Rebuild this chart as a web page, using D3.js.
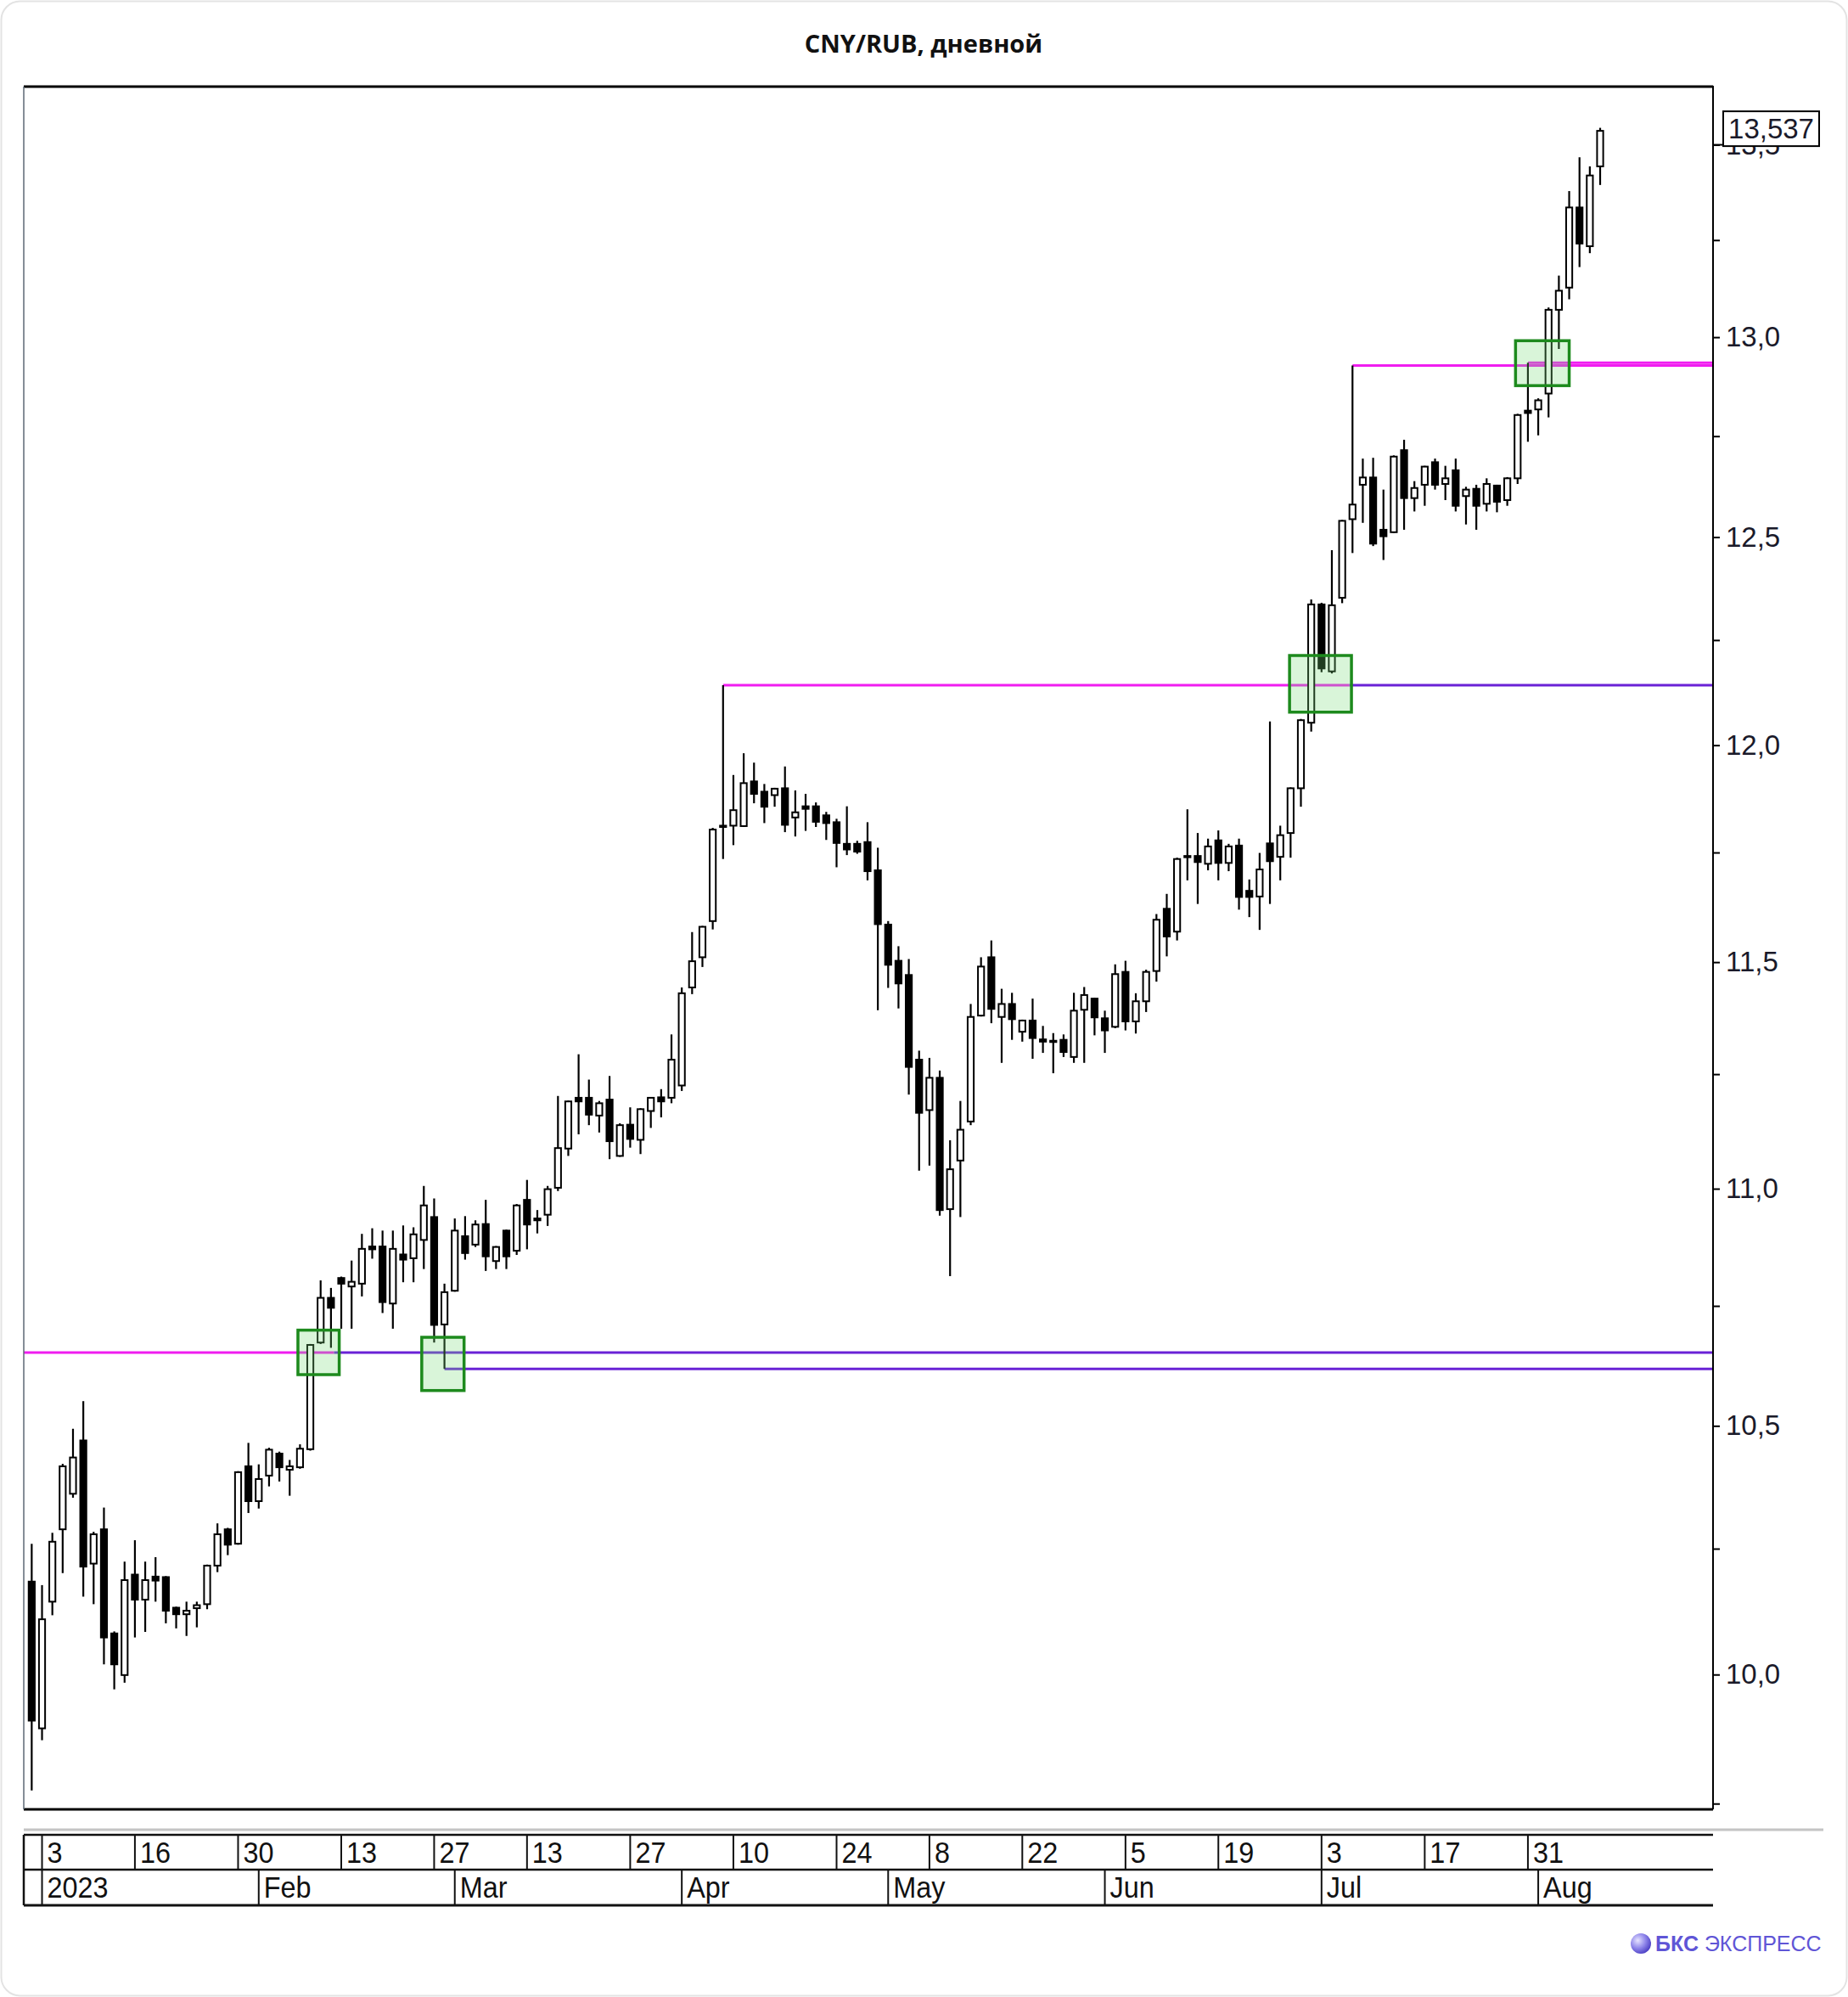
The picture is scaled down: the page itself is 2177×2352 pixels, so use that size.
<!DOCTYPE html>
<html><head><meta charset="utf-8">
<script src="https://cdn.jsdelivr.net/npm/d3@7"></script>
<style>html,body{margin:0;padding:0;background:#fff;} svg{display:block;}</style>
</head><body>
<svg id="chart" width="2177" height="2352"></svg>
<script>
const title = "CNY/RUB, дневной";
const dates = ["2022-12-30",
"2023-01-03","2023-01-04","2023-01-05","2023-01-06","2023-01-09","2023-01-10","2023-01-11","2023-01-12","2023-01-13","2023-01-16","2023-01-17","2023-01-18","2023-01-19","2023-01-20","2023-01-23","2023-01-24","2023-01-25","2023-01-26","2023-01-27","2023-01-30","2023-01-31",
"2023-02-01","2023-02-02","2023-02-03","2023-02-06","2023-02-07","2023-02-08","2023-02-09","2023-02-10","2023-02-13","2023-02-14","2023-02-15","2023-02-16","2023-02-17","2023-02-20","2023-02-21","2023-02-22","2023-02-24","2023-02-27","2023-02-28",
"2023-03-01","2023-03-02","2023-03-03","2023-03-06","2023-03-07","2023-03-09","2023-03-10","2023-03-13","2023-03-14","2023-03-15","2023-03-16","2023-03-17","2023-03-20","2023-03-21","2023-03-22","2023-03-23","2023-03-24","2023-03-27","2023-03-28","2023-03-29","2023-03-30","2023-03-31",
"2023-04-03","2023-04-04","2023-04-05","2023-04-06","2023-04-07","2023-04-10","2023-04-11","2023-04-12","2023-04-13","2023-04-14","2023-04-17","2023-04-18","2023-04-19","2023-04-20","2023-04-21","2023-04-24","2023-04-25","2023-04-26","2023-04-27","2023-04-28",
"2023-05-02","2023-05-03","2023-05-04","2023-05-05","2023-05-08","2023-05-10","2023-05-11","2023-05-12","2023-05-15","2023-05-16","2023-05-17","2023-05-18","2023-05-19","2023-05-22","2023-05-23","2023-05-24","2023-05-25","2023-05-26","2023-05-29","2023-05-30","2023-05-31",
"2023-06-01","2023-06-02","2023-06-05","2023-06-06","2023-06-07","2023-06-08","2023-06-09","2023-06-13","2023-06-14","2023-06-15","2023-06-16","2023-06-19","2023-06-20","2023-06-21","2023-06-22","2023-06-23","2023-06-26","2023-06-27","2023-06-28","2023-06-29","2023-06-30",
"2023-07-03","2023-07-04","2023-07-05","2023-07-06","2023-07-07","2023-07-10","2023-07-11","2023-07-12","2023-07-13","2023-07-14","2023-07-17","2023-07-18","2023-07-19","2023-07-20","2023-07-21","2023-07-24","2023-07-25","2023-07-26","2023-07-27","2023-07-28","2023-07-31",
"2023-08-01","2023-08-02","2023-08-03","2023-08-04","2023-08-07","2023-08-08","2023-08-09"];

const open = [10.184,
9.895,10.144,10.289,10.361,10.470,10.220,10.289,10.081,9.999,10.198,
10.148,10.194,10.193,10.132,10.119,10.131,10.139,10.216,10.289,10.260,
10.417,10.346,10.398,10.443,10.410,10.415,10.452,10.673,10.767,10.809,
10.791,10.797,10.876,10.876,10.755,10.859,10.851,10.890,10.939,10.711,
10.782,10.898,10.880,10.924,10.845,10.910,10.867,10.976,10.936,10.944,
11.002,11.087,11.198,11.198,11.159,11.194,11.071,11.139,11.106,11.169,
11.199,11.198,11.225,11.443,11.511,11.593,11.809,11.812,11.811,11.915,
11.891,11.883,11.899,11.831,11.857,11.857,11.836,11.820,11.770,11.770,
11.774,11.709,11.585,11.503,11.471,11.282,11.171,11.242,10.956,11.061,
11.146,11.380,11.511,11.377,11.406,11.344,11.369,11.327,11.324,11.326,
11.288,11.393,11.418,11.374,11.355,11.478,11.367,11.412,11.480,11.621,
11.569,11.742,11.742,11.724,11.778,11.726,11.766,11.662,11.649,11.771,
11.740,11.795,11.899,12.053,12.336,12.175,12.352,12.544,12.629,12.647,
12.518,12.512,12.715,12.596,12.629,12.685,12.631,12.665,12.601,12.619,
12.582,12.627,12.591,12.645,12.814,12.817,12.857,13.070,13.127,13.335,
13.234,13.443];

const high = [10.260,
10.177,10.282,10.422,10.494,10.551,10.284,10.333,10.085,10.224,10.267,
10.224,10.233,10.195,10.134,10.144,10.144,10.218,10.301,10.292,10.407,
10.465,10.421,10.455,10.447,10.430,10.462,10.670,10.804,10.788,10.812,
10.846,10.903,10.915,10.910,10.910,10.921,10.917,11.006,10.979,10.797,
10.936,10.941,10.932,10.976,10.877,10.912,10.967,11.019,10.954,11.006,
11.202,11.192,11.294,11.238,11.191,11.246,11.142,11.177,11.175,11.199,
11.217,11.338,11.443,11.568,11.582,11.807,12.142,11.930,11.981,11.959,
11.909,11.900,11.950,11.894,11.886,11.866,11.844,11.828,11.857,11.777,
11.820,11.761,11.593,11.536,11.507,11.302,11.286,11.258,11.105,11.191,
11.406,11.511,11.549,11.440,11.431,11.371,11.418,11.357,11.341,11.338,
11.431,11.444,11.420,11.391,11.495,11.503,11.430,11.483,11.609,11.655,
11.738,11.850,11.795,11.782,11.801,11.770,11.782,11.688,11.749,12.056,
11.812,11.901,12.062,12.348,12.340,12.468,12.542,12.928,12.694,12.696,
12.617,12.702,12.741,12.638,12.676,12.694,12.676,12.694,12.624,12.629,
12.645,12.629,12.648,12.806,12.935,12.845,13.076,13.158,13.378,13.467,
13.443,13.545];

const low = [9.775,
9.872,10.117,10.201,10.353,10.154,10.139,10.020,9.971,9.984,10.073,
10.084,10.144,10.101,10.091,10.076,10.093,10.129,10.203,10.237,10.258,
10.322,10.331,10.376,10.386,10.357,10.412,10.449,10.670,10.662,10.702,
10.702,10.770,10.850,10.735,10.702,10.800,10.800,10.828,10.673,10.618,
10.780,10.848,10.875,10.824,10.828,10.828,10.858,10.870,10.904,10.920,
10.995,11.071,11.118,11.138,11.122,11.064,11.069,11.089,11.075,11.132,
11.155,11.186,11.213,11.428,11.489,11.574,11.735,11.767,11.809,11.864,
11.818,11.856,11.797,11.787,11.800,11.809,11.779,11.716,11.744,11.747,
11.686,11.392,11.442,11.396,11.205,11.039,11.050,10.942,10.813,10.939,
11.138,11.378,11.363,11.275,11.326,11.322,11.284,11.297,11.252,11.288,
11.275,11.275,11.336,11.297,11.352,11.347,11.340,11.388,11.456,11.513,
11.549,11.686,11.632,11.709,11.686,11.707,11.619,11.602,11.573,11.632,
11.686,11.738,11.856,12.032,12.173,12.170,12.339,12.461,12.535,12.478,
12.444,12.510,12.518,12.563,12.577,12.617,12.591,12.563,12.531,12.518,
12.563,12.561,12.577,12.631,12.736,12.752,12.797,12.970,13.097,13.180,
13.216,13.394];

const close = [9.910,
10.109,10.264,10.417,10.435,10.214,10.279,10.073,10.020,10.187,10.148,
10.187,10.186,10.126,10.119,10.126,10.137,10.216,10.279,10.258,10.405,
10.346,10.391,10.451,10.415,10.417,10.453,10.668,10.767,10.746,10.797,
10.801,10.871,10.870,10.758,10.871,10.848,10.902,10.964,10.710,10.779,
10.910,10.862,10.923,10.855,10.875,10.855,10.964,10.923,10.932,10.999,
11.088,11.190,11.190,11.161,11.186,11.103,11.138,11.108,11.173,11.198,
11.190,11.282,11.430,11.502,11.580,11.803,11.812,11.848,11.911,11.886,
11.856,11.898,11.814,11.843,11.851,11.821,11.818,11.772,11.757,11.752,
11.707,11.586,11.494,11.452,11.266,11.165,11.242,10.954,11.042,11.128,
11.377,11.490,11.395,11.406,11.372,11.369,11.330,11.322,11.322,11.299,
11.391,11.426,11.376,11.347,11.473,11.367,11.412,11.478,11.596,11.558,
11.735,11.741,11.728,11.764,11.726,11.764,11.648,11.648,11.711,11.730,
11.790,11.899,12.059,12.336,12.182,12.334,12.540,12.580,12.647,12.484,
12.502,12.699,12.596,12.621,12.674,12.629,12.645,12.577,12.617,12.577,
12.631,12.587,12.645,12.803,12.808,12.840,13.070,13.119,13.335,13.241,
13.419,13.537];

// y-axis ticks
const yMajorTicks = [10.0, 10.5, 11.0, 11.5, 12.0, 12.5, 13.0, 13.5];
const yMinorTicks = [9.75, 10.25, 10.75, 11.25, 11.75, 12.25, 12.75, 13.25];
// x-axis tick rows
const dayTickDates = ["2023-01-03","2023-01-16","2023-01-30","2023-02-13","2023-02-27","2023-03-13","2023-03-27","2023-04-10","2023-04-24","2023-05-08","2023-05-22","2023-06-05","2023-06-19","2023-07-03","2023-07-17","2023-07-31"];
const dayTickLabels = ["3","16","30","13","27","13","27","10","24","8","22","5","19","3","17","31"];
const monthTickDates = ["2023-01-03","2023-02-01","2023-03-01","2023-04-03","2023-05-02","2023-06-01","2023-07-03","2023-08-01"];
const monthTickLabels = ["2023","Feb","Mar","Apr","May","Jun","Jul","Aug"];

// horizontal levels (position in bars: from / to), value, kind
const levelValue = [10.652, 10.652, 10.618, 12.142, 12.142, 12.928, 12.935];
const levelFrom  = [-0.77, 29.3, 40, 67, 127.7, 128, 145];
const levelTo    = [29.3, 162.94, 162.94, 127.7, 162.94, 162.94, 162.94];
const levelKind  = ["pink","purple","purple","pink","purple","pink","pink"];

// breakout boxes (bars from/to, value low/high)
const boxFrom = [25.8, 37.8, 121.9, 143.8];
const boxTo   = [29.8, 41.9, 127.9, 149.0];
const boxLow  = [10.606, 10.573, 12.078, 12.877];
const boxHigh = [10.699, 10.684, 12.213, 12.991];

const W = 2177, H = 2352;
const L = 28, R = 2018, T = 102, B = 2131;
const svg = d3.select("#chart");
const AX = "'Liberation Sans', Arial, sans-serif";

const x = d3.scaleLinear().domain([-0.77, 162.94]).range([L, R]);
const y = d3.scaleLog().domain([9.739, 13.655]).range([B, T]);
const pos = new Map(dates.map((d, i) => [d, i]));

// card
svg.append("rect").attr("x", 1.5).attr("y", 1.5).attr("width", W - 3).attr("height", H - 3)
  .attr("rx", 22).attr("fill", "#fff").attr("stroke", "#e3e3e3").attr("stroke-width", 2);

// title
svg.append("text").attr("x", 1088).attr("y", 62).attr("text-anchor", "middle")
  .attr("font-family", "'Open Sans','Noto Sans',sans-serif").attr("font-weight", 700)
  .attr("font-size", 29).attr("fill", "#111").text(title);

const defs = svg.append("defs");
defs.append("clipPath").attr("id", "clip")
  .append("rect").attr("x", L).attr("y", T).attr("width", R - L).attr("height", B - T);

const plot = svg.append("g").attr("clip-path", "url(#clip)");

// levels
const colors = {pink: "#f01df0", purple: "#6a22d6"};
plot.selectAll("line.level").data(levelValue.map((v, i) => i)).join("line")
  .attr("class", "level")
  .attr("x1", i => x(levelFrom[i])).attr("x2", i => x(levelTo[i]))
  .attr("y1", i => y(levelValue[i])).attr("y2", i => y(levelValue[i]))
  .attr("stroke", i => colors[levelKind[i]]).attr("stroke-width", 3);

// candles
const idx = d3.range(dates.length);
plot.selectAll("line.wick").data(idx).join("line").attr("class", "wick")
  .attr("x1", i => x(i)).attr("x2", i => x(i))
  .attr("y1", i => y(high[i])).attr("y2", i => y(low[i]))
  .attr("stroke", "#000").attr("stroke-width", 2.2);

plot.selectAll("rect.body").data(idx).join("rect").attr("class", "body")
  .attr("x", i => x(i) - 3.6).attr("width", 7.2)
  .attr("y", i => Math.min(y(open[i]), y(close[i])))
  .attr("height", i => Math.max(1.5, Math.abs(y(open[i]) - y(close[i]))))
  .attr("fill", i => close[i] >= open[i] ? "#fff" : "#000")
  .attr("stroke", "#000").attr("stroke-width", 2);

// boxes
plot.selectAll("rect.box").data(boxFrom.map((v, i) => i)).join("rect").attr("class", "box")
  .attr("x", i => x(boxFrom[i])).attr("width", i => x(boxTo[i]) - x(boxFrom[i]))
  .attr("y", i => y(boxHigh[i])).attr("height", i => y(boxLow[i]) - y(boxHigh[i]))
  .attr("fill", "rgba(120,220,120,0.28)").attr("stroke", "#1d8a1d").attr("stroke-width", 3.5);

// frame
svg.append("line").attr("x1", L).attr("x2", R).attr("y1", T).attr("y2", T).attr("stroke", "#000").attr("stroke-width", 3);
svg.append("line").attr("x1", L).attr("x2", R).attr("y1", B).attr("y2", B).attr("stroke", "#000").attr("stroke-width", 3);
svg.append("line").attr("x1", L).attr("x2", L).attr("y1", T).attr("y2", B).attr("stroke", "#5d6875").attr("stroke-width", 1.5);
svg.append("line").attr("x1", R).attr("x2", R).attr("y1", T - 1).attr("y2", B).attr("stroke", "#000").attr("stroke-width", 2);

// y axis
const fmt = d => d.toFixed(1).replace(".", ",");
const yAxis = d3.axisRight(y).tickValues(yMajorTicks).tickFormat(fmt).tickSize(8).tickPadding(7);
const gy = svg.append("g").attr("transform", `translate(${R},0)`).call(yAxis);
gy.select(".domain").remove();
gy.selectAll(".tick line").attr("stroke", "#000").attr("stroke-width", 2);
gy.selectAll(".tick text").attr("font-family", AX).attr("font-size", 33).attr("fill", "#1a1a2a");
const gym = svg.append("g").attr("transform", `translate(${R},0)`)
  .call(d3.axisRight(y).tickValues(yMinorTicks).tickFormat("").tickSize(8));
gym.select(".domain").remove();
gym.selectAll(".tick line").attr("stroke", "#000").attr("stroke-width", 2);

// last price label (covers the upper half of the 13,5 label, as in the source)
const last = close[close.length - 1];
const lp = svg.append("g");
lp.append("line").attr("x1", R).attr("x2", 2030).attr("y1", y(13.5)).attr("y2", y(13.5)).attr("stroke", "#000").attr("stroke-width", 2);
lp.append("rect").attr("x", 2030).attr("y", y(last) - 23).attr("width", 113).attr("height", 41)
  .attr("fill", "#fff").attr("stroke", "#000").attr("stroke-width", 2);
lp.append("text").attr("x", 2086.5).attr("y", y(last) - 2.5).attr("text-anchor", "middle")
  .attr("dominant-baseline", "central").attr("font-family", AX).attr("font-size", 33).attr("fill", "#1a1a2a")
  .text(last.toFixed(3).replace(".", ","));

// x axis table
const tb = svg.append("g");
tb.append("line").attr("x1", L).attr("x2", 2148).attr("y1", 2155).attr("y2", 2155).attr("stroke", "#c4c4c4").attr("stroke-width", 3);
[2161, 2202].forEach(yy => tb.append("line").attr("x1", L).attr("x2", R).attr("y1", yy).attr("y2", yy).attr("stroke", "#111").attr("stroke-width", 2.5));
tb.append("line").attr("x1", L).attr("x2", R).attr("y1", 2244).attr("y2", 2244).attr("stroke", "#111").attr("stroke-width", 3);
tb.append("line").attr("x1", L).attr("x2", L).attr("y1", 2161).attr("y2", 2244).attr("stroke", "#111").attr("stroke-width", 2.5);

tb.selectAll("line.dsep").data(dayTickDates).join("line").attr("class", "dsep")
  .attr("x1", d => x(pos.get(d))).attr("x2", d => x(pos.get(d)))
  .attr("y1", 2161).attr("y2", 2202).attr("stroke", "#111").attr("stroke-width", 2);
tb.selectAll("text.dlab").data(dayTickDates).join("text").attr("class", "dlab")
  .attr("transform", d => `translate(${x(pos.get(d)) + 6},2194) scale(0.9,1)`)
  .attr("font-family", AX).attr("font-size", 36).attr("fill", "#111")
  .text((d, i) => dayTickLabels[i]);

tb.selectAll("line.msep").data(monthTickDates).join("line").attr("class", "msep")
  .attr("x1", d => x(pos.get(d))).attr("x2", d => x(pos.get(d)))
  .attr("y1", 2202).attr("y2", 2244).attr("stroke", "#111").attr("stroke-width", 2);
tb.selectAll("text.mlab").data(monthTickDates).join("text").attr("class", "mlab")
  .attr("transform", d => `translate(${x(pos.get(d)) + 6},2235) scale(0.9,1)`)
  .attr("font-family", AX).attr("font-size", 36).attr("fill", "#111")
  .text((d, i) => monthTickLabels[i]);

// watermark
const grad = defs.append("radialGradient").attr("id", "bcs").attr("cx", "35%").attr("cy", "35%").attr("r", "70%");
grad.append("stop").attr("offset", "0%").attr("stop-color", "#e6e3ff");
grad.append("stop").attr("offset", "55%").attr("stop-color", "#8f86ea");
grad.append("stop").attr("offset", "100%").attr("stop-color", "#4b3fc4");
svg.append("circle").attr("cx", 1933).attr("cy", 2289).attr("r", 12).attr("fill", "url(#bcs)");
const wm = svg.append("text").attr("x", 1950).attr("y", 2298).attr("font-family", AX).attr("font-size", 25).attr("fill", "#5f55d6");
wm.append("tspan").attr("font-weight", 700).text("БКС");
wm.append("tspan").text(" ЭКСПРЕСС");
</script>
</body></html>
